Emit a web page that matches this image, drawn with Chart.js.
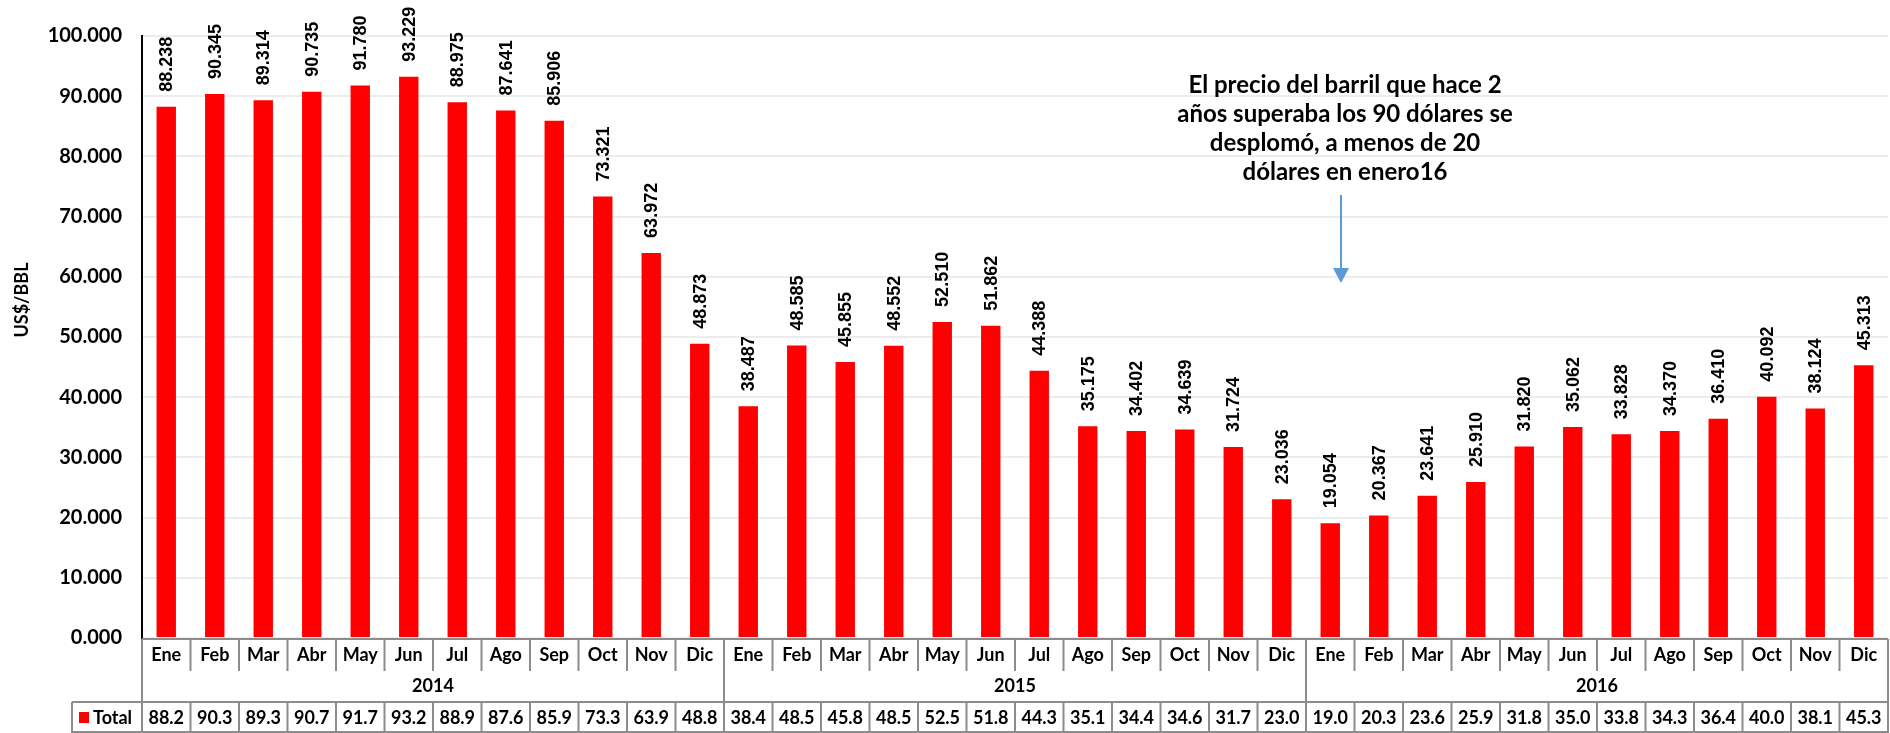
<!DOCTYPE html>
<html>
<head>
<meta charset="utf-8">
<script src="https://cdn.jsdelivr.net/npm/chart.js@4.4.0/dist/chart.umd.min.js"></script>
<style>
  html, body { margin: 0; padding: 0; background: #fff; }
  #wrap { width: 1890px; height: 733px; position: relative; }
</style>
</head>
<body>
<div id="wrap"><canvas id="myChart"></canvas></div>
<script>
// data
var months = ['Ene', 'Feb', 'Mar', 'Abr', 'May', 'Jun', 'Jul', 'Ago', 'Sep', 'Oct', 'Nov', 'Dic'];
var years = ['2014', '2015', '2016'];
var values2014 = [88.238, 90.345, 89.314, 90.735, 91.780, 93.229, 88.975, 87.641, 85.906, 73.321, 63.972, 48.873];
var values2015 = [38.487, 48.585, 45.855, 48.552, 52.510, 51.862, 44.388, 35.175, 34.402, 34.639, 31.724, 23.036];
var values2016 = [19.054, 20.367, 23.641, 25.910, 31.820, 35.062, 33.828, 34.370, 36.410, 40.092, 38.124, 45.313];
var seriesName = 'Total';
var yTitle = 'US$/BBL';
var noteLines = ['El precio del barril que hace 2', 'años superaba los 90 dólares se', 'desplomó, a menos de 20', 'dólares en enero16'];

var labels = [];
years.forEach(function(y) {
  months.forEach(function(m) { labels.push(m + ' ' + y); });
});
var values = values2014.concat(values2015, values2016);

var FONT = '"Lato", "DejaVu Sans", sans-serif';
var GRAY = '#8c8c8c';

// rotated value labels, category table and the note
var drawExtras = {
  id: 'drawExtras',
  afterDraw: function(chart) {
    var ctx = chart.ctx;
    var area = chart.chartArea;
    var xs = chart.scales.x;
    var meta = chart.getDatasetMeta(0);
    var n = labels.length;
    var w = (area.right - area.left) / n;
    var top = area.bottom + 1;
    var monthBottom = top + 32;
    var tableTop = top + 63;
    var tableBottom = 733;

    ctx.save();

    // value labels
    ctx.fillStyle = '#000';
    ctx.font = 'bold 18px "Liberation Sans", Arial, sans-serif';
    ctx.textAlign = 'left';
    ctx.textBaseline = 'middle';
    meta.data.forEach(function(bar, i) {
      ctx.save();
      ctx.translate(bar.x + 1, bar.y - 15);
      ctx.rotate(-Math.PI / 2);
      ctx.fillText(values[i].toFixed(3), 0, 0);
      ctx.restore();
    });

    // axis table lines
    ctx.strokeStyle = GRAY;
    ctx.lineWidth = 2;
    ctx.beginPath();
    ctx.moveTo(area.left, top);
    ctx.lineTo(area.right, top);
    ctx.moveTo(72, tableTop);
    ctx.lineTo(area.right, tableTop);
    ctx.moveTo(72, tableBottom - 1);
    ctx.lineTo(area.right, tableBottom - 1);
    ctx.moveTo(72, tableTop);
    ctx.lineTo(72, tableBottom);
    for (var i = 0; i <= n; i++) {
      var bx = area.left + i * w;
      if (i % 12 === 0) {
        ctx.moveTo(bx, top);
        ctx.lineTo(bx, tableBottom);
      } else {
        ctx.moveTo(bx, top);
        ctx.lineTo(bx, monthBottom);
        ctx.moveTo(bx, tableTop);
        ctx.lineTo(bx, tableBottom);
      }
    }
    ctx.stroke();

    // month, year and table text
    ctx.fillStyle = '#000';
    ctx.textAlign = 'center';
    ctx.textBaseline = 'middle';
    ctx.font = 'bold 18px ' + FONT;
    for (var j = 0; j < n; j++) {
      var cx = xs.getPixelForValue(j);
      ctx.fillText(months[j % 12], cx, top + 16);
      ctx.fillText((Math.floor(values[j] * 10 + 1e-6) / 10).toFixed(1), cx, tableTop + 16);
    }
    years.forEach(function(y, k) {
      var gx = area.left + (k * 12 + 6) * w;
      ctx.fillText(y, gx, top + 47);
    });

    // legend key in the table
    ctx.fillStyle = '#ff0000';
    ctx.fillRect(79, tableTop + 10, 10, 11);
    ctx.fillStyle = '#000';
    ctx.textAlign = 'left';
    ctx.fillText(seriesName, 93, tableTop + 16);

    // y axis title
    ctx.save();
    ctx.translate(22, 300);
    ctx.rotate(-Math.PI / 2);
    ctx.textAlign = 'center';
    ctx.font = 'bold 18px ' + FONT;
    ctx.fillText(yTitle, 0, 0);
    ctx.restore();

    // note and arrow
    ctx.font = 'bold 24px ' + FONT;
    ctx.textAlign = 'center';
    noteLines.forEach(function(line, k) {
      ctx.fillText(line, 1345, 85 + k * 29);
    });
    ctx.strokeStyle = '#5b9bd5';
    ctx.fillStyle = '#5b9bd5';
    ctx.lineWidth = 2;
    ctx.beginPath();
    ctx.moveTo(1341, 195);
    ctx.lineTo(1341, 270);
    ctx.stroke();
    ctx.beginPath();
    ctx.moveTo(1333, 268);
    ctx.lineTo(1349, 268);
    ctx.lineTo(1341, 283);
    ctx.closePath();
    ctx.fill();

    ctx.restore();
  }
};

var ctx1 = document.getElementById('myChart').getContext('2d');
var myChart = new Chart(ctx1, {
  type: 'bar',
  data: {
    labels: labels,
    datasets: [{
      label: seriesName,
      data: values,
      backgroundColor: '#ff0000',
      borderWidth: 0,
      categoryPercentage: 1.0,
      barPercentage: 0.4
    }]
  },
  options: {
    responsive: true,
    maintainAspectRatio: false,
    animation: false,
    layout: { padding: { top: 36, right: 2, bottom: 0, left: 0 } },
    plugins: {
      legend: { display: false },
      tooltip: { enabled: false }
    },
    scales: {
      x: {
        grid: { display: false },
        border: { display: false },
        ticks: { display: false },
        afterFit: function(scale) { scale.height = 95; }
      },
      y: {
        min: 0,
        max: 100,
        ticks: {
          stepSize: 10,
          color: '#000',
          padding: 20,
          font: { family: FONT, size: 20, weight: 'bold' },
          callback: function(v) { return Number(v).toFixed(3); }
        },
        grid: { color: '#ececec', lineWidth: 2, drawTicks: false },
        border: { display: true, color: '#000', width: 2 },
        afterFit: function(scale) { scale.width = 142; }
      }
    }
  },
  plugins: [drawExtras]
});
</script>
</body>
</html>
